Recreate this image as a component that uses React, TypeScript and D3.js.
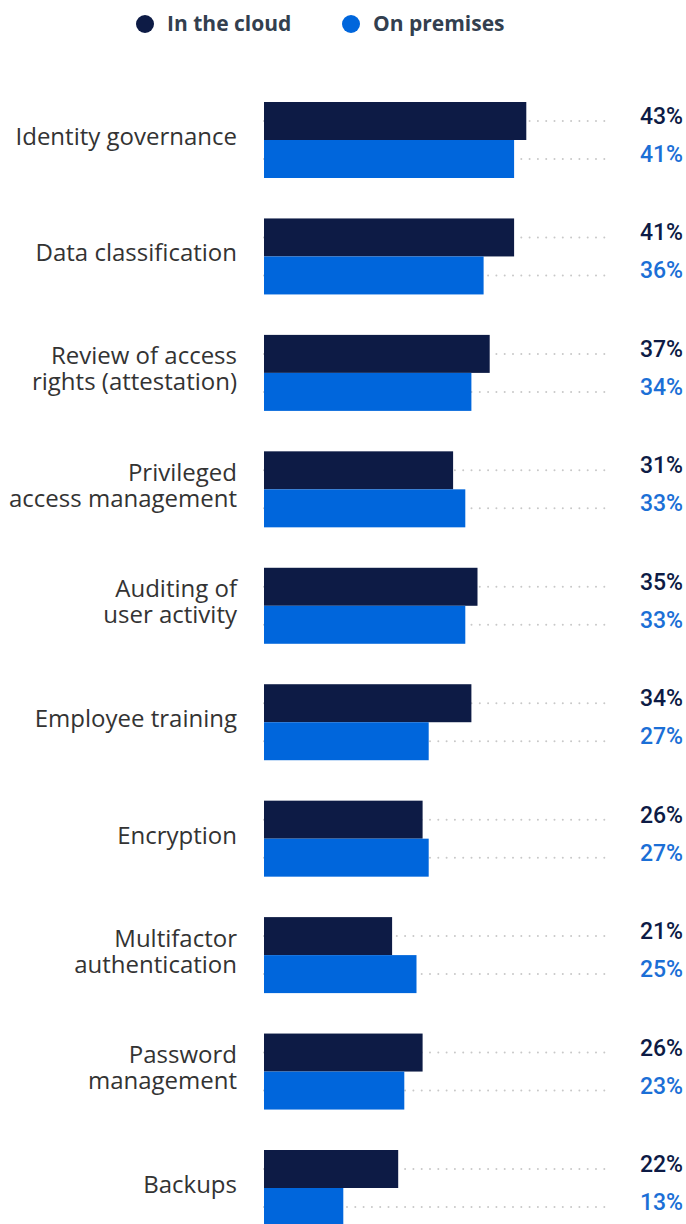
import { useEffect, useRef } from 'react';
import * as d3 from 'd3';

const categories = [
  'Identity governance',
  'Data classification',
  'Review of access\nrights (attestation)',
  'Privileged\naccess management',
  'Auditing of\nuser activity',
  'Employee training',
  'Encryption',
  'Multifactor\nauthentication',
  'Password\nmanagement',
  'Backups',
];
const cloud = [43, 41, 37, 31, 35, 34, 26, 21, 26, 22];
const premises = [41, 36, 34, 33, 33, 27, 27, 25, 23, 13];
const seriesNames = ['In the cloud', 'On premises'];
const seriesColors = ['#0d1b45', '#0066dc'];
const labelColors = ['#0d1b45', '#1b6fd6'];

export default function App() {
  const ref = useRef<SVGSVGElement>(null);

  useEffect(() => {
    document.body.style.margin = '0';
    const width = 686;
    const height = 1224;
    const barH = 38;
    const x0 = 264;

    const svg = d3.select(ref.current).attr('width', width).attr('height', height);
    svg.selectAll('*').remove();

    const x = d3.scaleLinear().domain([0, 50]).range([x0, x0 + 305]);
    const y = d3.scalePoint().domain(categories).range([140, 1188]);

    // Legend
    const legend = svg.append('g');
    const legendX = [145, 351];
    seriesNames.forEach((name, i) => {
      legend.append('circle').attr('cx', legendX[i]).attr('cy', 24).attr('r', 9).attr('fill', seriesColors[i]);
      legend
        .append('text')
        .attr('x', legendX[i] + 22)
        .attr('y', 31)
        .attr('font-family', 'Open Sans')
        .attr('font-weight', 700)
        .attr('font-size', 21)
        .attr('fill', '#333f4f')
        .text(name);
    });

    const rows = categories.map((c, i) => ({ c, values: [cloud[i], premises[i]] }));

    const g = svg.selectAll('g.row').data(rows).join('g').attr('class', 'row');

    g.each(function (d) {
      const row = d3.select(this);
      const center = y(d.c) as number;
      d.values.forEach((v, k) => {
        const top = center - barH + k * barH;
        const cy = top + barH / 2;
        // dotted guide
        row
          .append('line')
          .attr('x1', x0)
          .attr('x2', 612)
          .attr('y1', cy)
          .attr('y2', cy)
          .attr('stroke', '#c8c8c8')
          .attr('stroke-width', 2)
          .attr('stroke-linecap', 'round')
          .attr('stroke-dasharray', '0 8.3');
        row
          .append('rect')
          .attr('x', x(0))
          .attr('y', top)
          .attr('width', x(v) - x(0))
          .attr('height', barH)
          .attr('fill', seriesColors[k]);
        row
          .append('text')
          .attr('x', 683)
          .attr('y', cy + 3)
          .attr('text-anchor', 'end')
          .attr('font-family', 'Roboto')
          .attr('font-weight', 500)
          .attr('font-size', 23)
          .attr('fill', labelColors[k])
          .text(`${v}%`);
      });

      const lines = d.c.split('\n');
      const text = row
        .append('text')
        .attr('text-anchor', 'end')
        .attr('font-family', 'Open Sans')
        .attr('font-size', 24)
        .attr('fill', '#333333');
      lines.forEach((line, li) => {
        text
          .append('tspan')
          .attr('x', 237)
          .attr('y', lines.length > 1 ? center - 8.5 + li * 26 : center + 5)
          .text(line);
      });
    });
  }, []);

  return <svg ref={ref} style={{ display: 'block' }} />;
}
